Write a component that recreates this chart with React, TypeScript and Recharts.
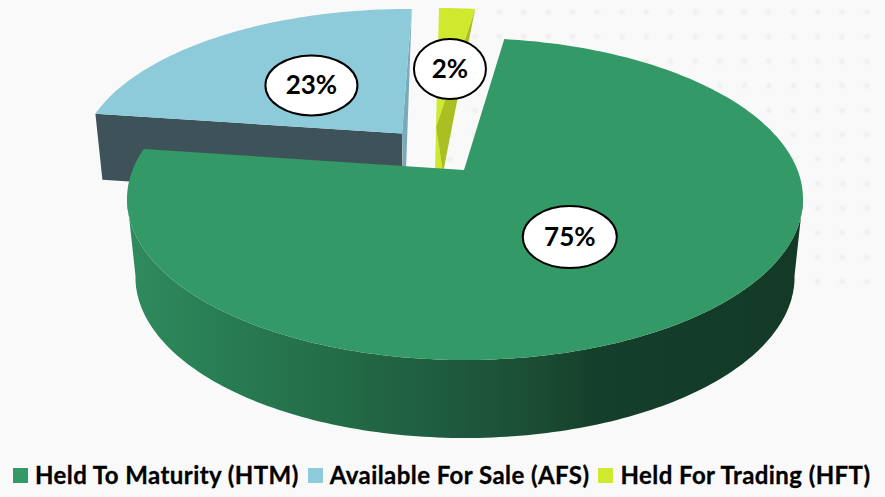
import React from 'react';
import { PieChart, Pie, Legend } from 'recharts';

const WIDTH = 885;
const HEIGHT = 497;

const categories = ['Available For Sale (AFS)', 'Held For Trading (HFT)', 'Held To Maturity (HTM)'];
const values = [23, 2, 75];
const colors = ['#8dcada', '#cfe92f', '#339966'];
const legendOrder = ['Held To Maturity (HTM)', 'Available For Sale (AFS)', 'Held For Trading (HFT)'];

const chartData = categories.map((name, i) => ({ name, value: values[i], fill: colors[i] }));

// perspective of the disc: the true centre sits above the centre of the ellipse
const TILT = 0.18;
const CX = 465;
const CY = 199;
const RADIUS = 338;

// each slice is pulled out of the pie differently, these are offsets from the main ellipse
const explode: Record<string, { dx: number; dy: number; rx: number; ry: number; apexDx: number; labelR: number; lx: number; ly: number; lrx: number; lry: number }> = {
  'Held To Maturity (HTM)': { dx: 0, dy: 0, rx: 338, ry: 161, apexDx: -1, labelR: 0.5, lx: -3, ly: 0, lrx: 47, lry: 31 },
  'Available For Sale (AFS)': { dx: -57, dy: -38, rx: 329, ry: 152, apexDx: -6, labelR: 0.5, lx: 2, ly: 4, lrx: 46, lry: 30 },
  'Held For Trading (HFT)': { dx: -30, dy: -46, rx: 345, ry: 145, apexDx: 1, labelR: 0.455, lx: 4, ly: 1, lrx: 36, lry: 30 },
};

const rad = (deg: number) => (deg * Math.PI) / 180;

function project(name: string, angle: number, r = 1) {
  const g = explode[name];
  const c = Math.cos(rad(angle)) * r;
  const s = Math.sin(rad(angle)) * r;
  const w = 1 + TILT * s;
  return {
    x: CX + g.dx + (g.rx * Math.sqrt(1 - TILT * TILT) * c) / w,
    y: CY + g.dy - (g.ry * (s + TILT)) / w,
  };
}

function rim(name: string, start: number, end: number) {
  const pts = [];
  const steps = Math.max(2, Math.ceil(Math.abs(end - start)));
  for (let i = 0; i <= steps; i++) {
    pts.push(project(name, start + ((end - start) * i) / steps));
  }
  return pts;
}

const toPath = (pts: { x: number; y: number }[]) =>
  pts.map((p, i) => `${i ? 'L' : 'M'}${p.x.toFixed(1)},${p.y.toFixed(1)}`).join(' ') + ' Z';

function Slice3D(props: any) {
  const { name, startAngle, endAngle, fill } = props;
  const g = explode[name];
  const arc = rim(name, startAngle, endAngle);
  const centre = project(name, 0, 0);
  const apex = { x: centre.x + g.apexDx, y: centre.y };
  const top = toPath([apex, ...arc]);

  if (name === 'Available For Sale (AFS)') {
    const left = arc[0];
    const right = arc[arc.length - 1];
    return (
      <g>
        <path d={toPath([left, apex, { x: apex.x + 1, y: apex.y + 66 }, { x: left.x + 7, y: left.y + 66 }])} fill="#3e5359" />
        <path d={toPath([right, { x: apex.x + 4, y: apex.y + 36 }, { x: apex.x + 1, y: apex.y + 36 }, apex])} fill="#7aa9bb" />
        <path d={top} fill={fill} />
      </g>
    );
  }

  if (name === 'Held For Trading (HFT)') {
    const right = arc[arc.length - 1];
    const foot = { x: apex.x + 7, y: apex.y + 46 };
    return (
      <g>
        <path d={toPath([apex, foot, { x: apex.x - 1, y: apex.y + 46 }])} fill={fill} />
        <path d={toPath([right, foot, apex])} fill="#a9bf22" />
        <path d={top} fill={fill} />
      </g>
    );
  }

  // main slice: only the front of the rim shows a wall, the base ellipse is a bit narrower
  let li = 0;
  let ri = 0;
  arc.forEach((p, i) => {
    if (p.x < arc[li].x) li = i;
    if (p.x > arc[ri].x) ri = i;
  });
  const [a, b] = li < ri ? [li, ri] : [ri, li];
  const front = arc.slice(a, b + 1);
  const DEPTH = 78;
  const BASE_SCALE = 0.975;
  const base = front
    .slice()
    .reverse()
    .map((p) => ({ x: CX + (p.x - CX) * BASE_SCALE, y: p.y + DEPTH }));
  return (
    <g>
      <defs>
        <linearGradient id="wallGreen" gradientUnits="userSpaceOnUse" x1={127} x2={803} y1={0} y2={0}>
          <stop offset="0%" stopColor="#2f8b5e" />
          <stop offset="17%" stopColor="#277a51" />
          <stop offset="33%" stopColor="#226a46" />
          <stop offset="46%" stopColor="#1f5c41" />
          <stop offset="60%" stopColor="#1b4d35" />
          <stop offset="70%" stopColor="#143f2a" />
          <stop offset="100%" stopColor="#133a27" />
        </linearGradient>
      </defs>
      <path d={toPath([...front, ...base])} fill="url(#wallGreen)" />
      <path d={top} fill={fill} />
    </g>
  );
}

function renderLabel(props: any) {
  const { name, midAngle, value } = props;
  const g = explode[name];
  const p = project(name, midAngle, g.labelR);
  const x = p.x + g.lx;
  const y = p.y + g.ly;
  return (
    <g>
      <ellipse cx={x} cy={y} rx={g.lrx} ry={g.lry} fill="#ffffff" stroke="#000000" strokeWidth={2} />
      <text x={x} y={y + 9} textAnchor="middle" fontFamily="Lato, sans-serif" fontWeight={700} fontSize={26} fill="#000000">
        {value}%
      </text>
    </g>
  );
}

function renderLegend(props: any) {
  const items = [...(props.payload || [])].sort((a: any, b: any) => legendOrder.indexOf(a.value) - legendOrder.indexOf(b.value));
  return (
    <div style={{ display: 'flex', alignItems: 'center', fontFamily: 'Lato, sans-serif', fontWeight: 700, fontSize: 24, letterSpacing: 0.43, color: '#000000', lineHeight: '30px', WebkitTextStroke: '0.3px #000000' }}>
      {items.map((item: any) => (
        <span key={item.value} style={{ display: 'flex', alignItems: 'center', marginRight: 9 }}>
          <span style={{ width: 15, height: 15, background: item.color, marginRight: 7, display: 'inline-block' }} />
          {item.value}
        </span>
      ))}
    </div>
  );
}

export default function App() {
  return (
    <div style={{ position: 'absolute', left: 0, top: 0, width: WIDTH, height: HEIGHT, background: '#f9f9f9', overflow: 'hidden' }}>
      <div
        style={{
          position: 'absolute',
          left: 440,
          top: 0,
          width: 445,
          height: 300,
          backgroundImage: 'radial-gradient(circle, #eeeeee 0, #f0f0f0 1.5px, rgba(249,249,249,0) 4px)',
          backgroundSize: '24.5px 24.5px',
          backgroundPosition: '-2px 0px',
        }}
      />
      <PieChart width={WIDTH} height={HEIGHT} style={{ position: 'absolute', left: 0, top: 0 }}>
        <Pie
          data={chartData}
          dataKey="value"
          nameKey="name"
          cx={CX}
          cy={CY}
          innerRadius={0}
          outerRadius={RADIUS}
          startAngle={172}
          endAngle={-188}
          stroke="none"
          shape={Slice3D}
          label={renderLabel}
          labelLine={false}
          isAnimationActive={false}
        />
        <Legend content={renderLegend} layout="horizontal" verticalAlign="top" align="left" wrapperStyle={{ left: 13, top: 460, width: 870 }} />
      </PieChart>
    </div>
  );
}
